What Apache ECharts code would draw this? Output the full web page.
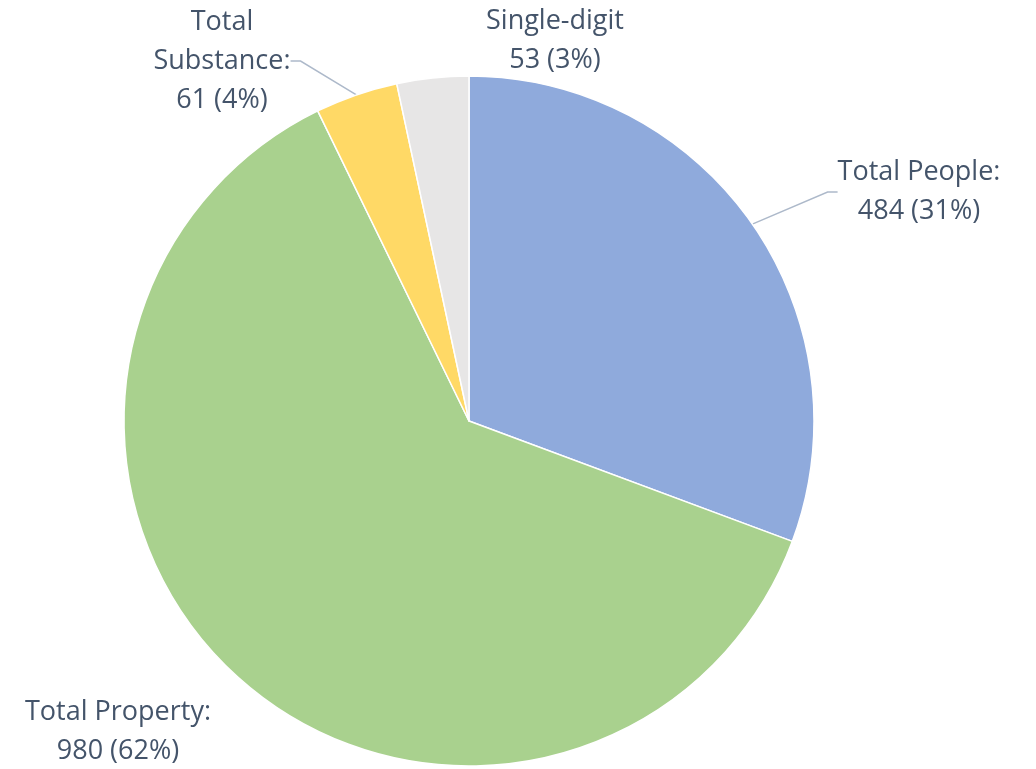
<!DOCTYPE html>
<html>
<head>
<meta charset="utf-8">
<script src="https://cdn.jsdelivr.net/npm/echarts@6/dist/echarts.min.js"></script>
<style>
  html, body { margin: 0; padding: 0; background: #fff; }
  #chart { width: 1036px; height: 769px; }
</style>
</head>
<body>
<div id="chart"></div>
<script>
var categories = ["Total People", "Total Property", "Total Substance", "Single-digit"];
var labelNames = ["Total People:", "Total Property:", "Total\nSubstance:", "Single-digit"];
var values = [484, 980, 61, 53];
var colors = ["#8FAADC", "#A9D18E", "#FFD966", "#E7E6E6"];

// label centres, in pixels
var labelPos = [[919, 192], [118, 732], [222, 61], [555, 41]];
var showLine = [true, false, true, false];

var myChart = echarts.init(document.getElementById("chart"));

var data = [];
for (var i = 0; i < categories.length; i++) {
  data.push({
    name: categories[i],
    value: values[i],
    itemStyle: { color: colors[i] },
    labelLine: { show: showLine[i] }
  });
}

myChart.setOption({
  animation: false,
  series: [
    {
      type: "pie",
      center: [469, 421],
      radius: 345,
      startAngle: 90,
      clockwise: true,
      percentPrecision: 0,
      itemStyle: { borderColor: "#fff", borderWidth: 1.5 },
      label: {
        show: true,
        position: "outside",
        fontFamily: "Open Sans",
        fontSize: 27,
        lineHeight: 39,
        color: "#44546A",
        align: "center",
        formatter: function (p) {
          return labelNames[p.dataIndex] + "\n" + p.value + " (" + p.percent + "%)";
        }
      },
      labelLine: {
        length: 10,
        length2: 10,
        lineStyle: { color: "#ADB9CA", width: 1.5 }
      },
      labelLayout: function (p) {
        var pos = labelPos[p.dataIndex];
        return {
          x: pos[0],
          y: pos[1],
          align: "center",
          verticalAlign: "middle"
        };
      },
      data: data
    }
  ]
});
</script>
</body>
</html>
